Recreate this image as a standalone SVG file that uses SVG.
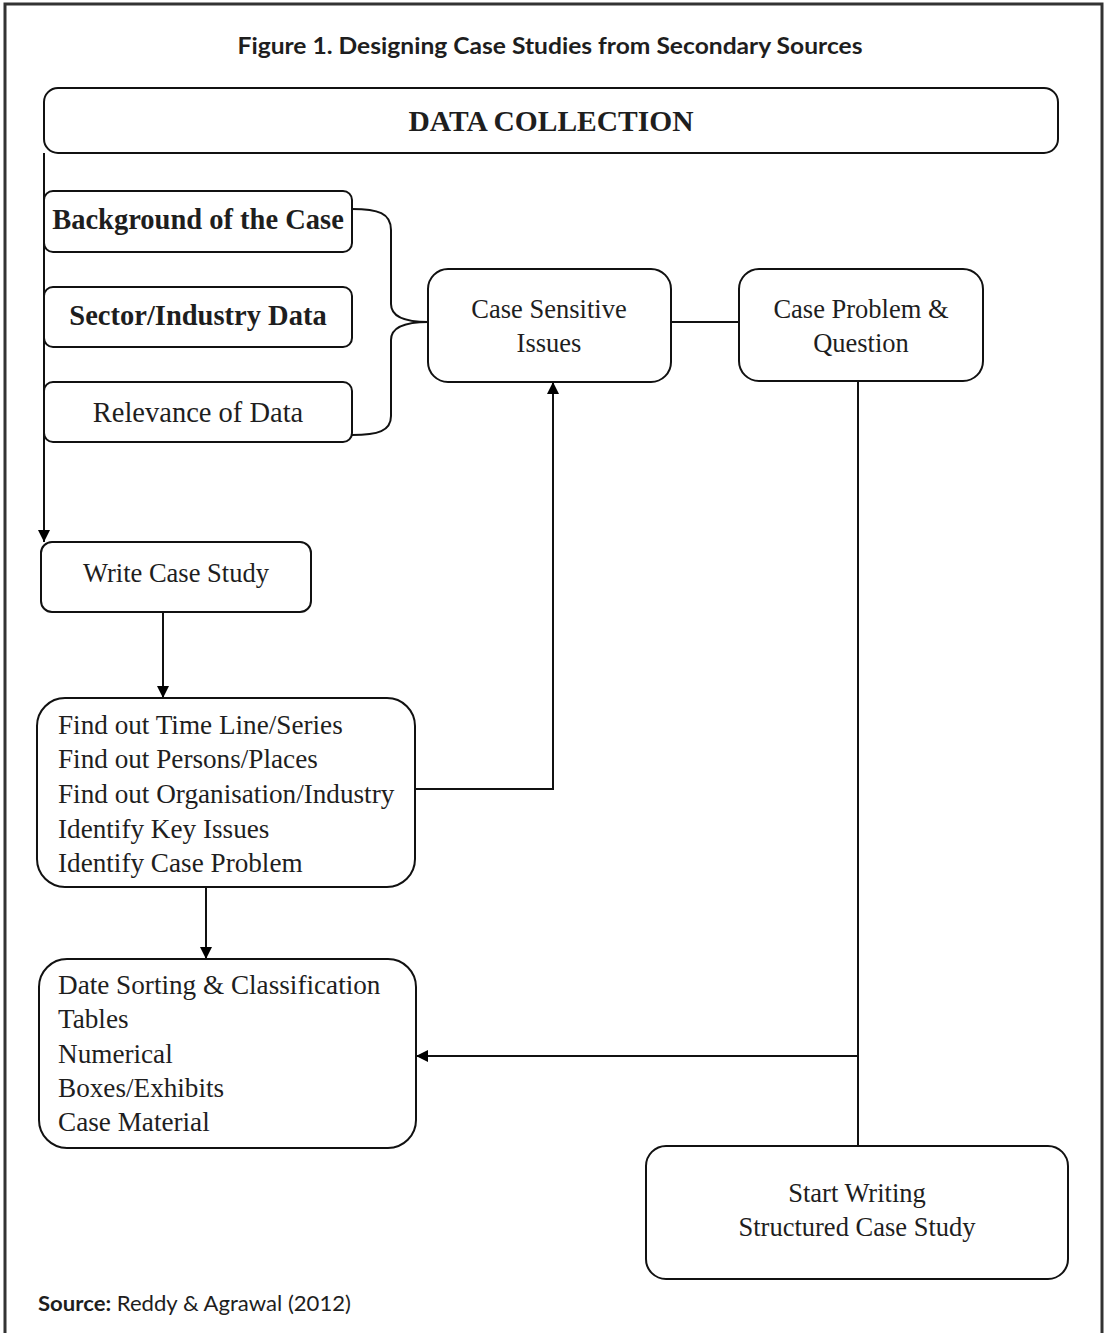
<svg xmlns="http://www.w3.org/2000/svg" width="1104" height="1333" viewBox="0 0 1104 1333">
<style>
.box{fill:#fff;stroke:#111;stroke-width:2}
.t{font-family:"Liberation Serif","Times New Roman",serif;fill:#1e1e1e;font-size:26.5px}
.b{font-weight:bold;font-size:28.5px}
.c{text-anchor:middle}
.ln{fill:none;stroke:#111;stroke-width:2}
.sans{font-family:Lato,"Open Sans",sans-serif;fill:#1e1e1e}
</style>
<defs>
<marker id="ah" markerUnits="userSpaceOnUse" markerWidth="12" markerHeight="12" viewBox="0 0 12 12" refX="12" refY="6" orient="auto">
<path d="M0,0 L12,6 L0,12 Z" fill="#000"/>
</marker>
</defs>
<rect x="0" y="0" width="1104" height="1333" fill="#fff"/>
<rect x="5" y="4" width="1097" height="1345" fill="none" stroke="#333" stroke-width="3"/>
<text class="sans" x="550" y="54" font-size="23" font-weight="bold" text-anchor="middle" textLength="625" lengthAdjust="spacingAndGlyphs">Figure 1. Designing Case Studies from Secondary Sources</text>

<g id="connectors">
<path class="ln" d="M44,153 V542" marker-end="url(#ah)"/>
<path class="ln" d="M352,209 C378,209 391,213 391,230 V304 C391,318 408,322 428,322"/>
<path class="ln" d="M428,322 C408,322 391,326 391,340 V416 C391,431 378,435 352,435"/>
<path class="ln" d="M671,322 H739"/>
<path class="ln" d="M858,381 V1146"/>
<path class="ln" d="M163,612 V698" marker-end="url(#ah)"/>
<path class="ln" d="M415,789 H553 V382" marker-end="url(#ah)"/>
<path class="ln" d="M206,887 V959" marker-end="url(#ah)"/>
<path class="ln" d="M858,1056 H416" marker-end="url(#ah)"/>
</g>

<g id="data-collection">
<rect class="box" x="44" y="88" width="1014" height="65" rx="14"/>
<text class="t b c" x="551" y="131" style="font-size:29.5px">DATA COLLECTION</text>
</g>
<g id="background">
<rect class="box" x="44" y="191" width="308" height="61" rx="9"/>
<text class="t b c" x="198" y="229">Background of the Case</text>
</g>
<g id="sector">
<rect class="box" x="44" y="287" width="308" height="60" rx="9"/>
<text class="t b c" x="198" y="325">Sector/Industry Data</text>
</g>
<g id="relevance">
<rect class="box" x="44" y="382" width="308" height="60" rx="9"/>
<text class="t c" x="198" y="422" style="font-size:28.5px">Relevance of Data</text>
</g>
<g id="case-sensitive">
<rect class="box" x="428" y="269" width="243" height="113" rx="20"/>
<text class="t c" x="549" y="318">Case Sensitive</text>
<text class="t c" x="549" y="352">Issues</text>
</g>
<g id="case-problem">
<rect class="box" x="739" y="269" width="244" height="112" rx="20"/>
<text class="t c" x="861" y="318">Case Problem &amp;</text>
<text class="t c" x="861" y="352">Question</text>
</g>
<g id="write-case-study">
<rect class="box" x="41" y="542" width="270" height="70" rx="11"/>
<text class="t c" x="176" y="582">Write Case Study</text>
</g>
<g id="find-out">
<rect class="box" x="37" y="698" width="378" height="189" rx="28"/>
<text class="t" x="58" y="734" style="font-size:27.2px">Find out Time Line/Series</text>
<text class="t" x="58" y="768" style="font-size:27.2px">Find out Persons/Places</text>
<text class="t" x="58" y="803" style="font-size:27.2px">Find out Organisation/Industry</text>
<text class="t" x="58" y="838" style="font-size:27.2px">Identify Key Issues</text>
<text class="t" x="58" y="872" style="font-size:27.2px">Identify Case Problem</text>
</g>
<g id="date-sorting">
<rect class="box" x="39" y="959" width="377" height="189" rx="28"/>
<text class="t" x="58" y="994" style="font-size:27.2px">Date Sorting &amp; Classification</text>
<text class="t" x="58" y="1028" style="font-size:27.2px">Tables</text>
<text class="t" x="58" y="1063" style="font-size:27.2px">Numerical</text>
<text class="t" x="58" y="1097" style="font-size:27.2px">Boxes/Exhibits</text>
<text class="t" x="58" y="1131" style="font-size:27.2px">Case Material</text>
</g>
<g id="start-writing">
<rect class="box" x="646" y="1146" width="422" height="133" rx="20"/>
<text class="t c" x="857" y="1202">Start Writing</text>
<text class="t c" x="857" y="1236">Structured Case Study</text>
</g>
<text class="sans" x="38" y="1311" font-size="21.5" textLength="313" lengthAdjust="spacingAndGlyphs"><tspan font-weight="bold">Source:</tspan> Reddy &amp; Agrawal (2012)</text>
</svg>
